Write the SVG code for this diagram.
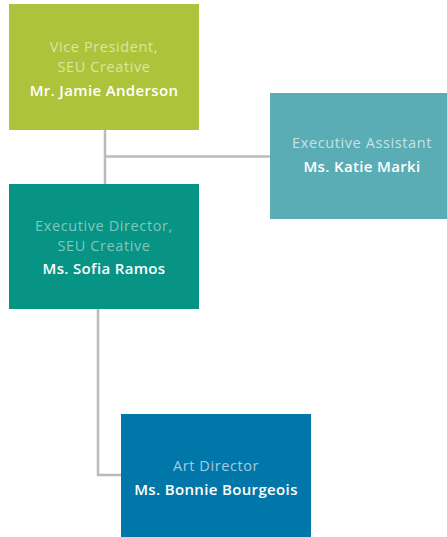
<svg xmlns="http://www.w3.org/2000/svg" width="447" height="537" viewBox="0 0 447 537">
<style>
.t{font-family:"Open Sans","Liberation Sans",sans-serif;font-size:14.5px;font-weight:500;letter-spacing:0.6px;text-anchor:middle}
.n{font-family:"Open Sans","Liberation Sans",sans-serif;font-size:15px;font-weight:600;letter-spacing:0.35px;fill:#fff;text-anchor:middle}
.c{fill:none;stroke:#BBBBBB;stroke-width:2.5}
</style>
<rect width="447" height="537" fill="#fff"/>
<g id="connectors">
<path class="c" d="M105 130V184"/>
<path class="c" d="M105 156.5H270"/>
<path class="c" d="M98 309V475H121"/>
</g>
<g id="vp">
<rect x="9" y="4" width="190" height="126" fill="#ADC33B"/>
<text class="t" x="104" y="52" fill="#DCE6A2">Vice President,</text>
<text class="t" x="104" y="72" fill="#DCE6A2">SEU Creative</text>
<text class="n" x="104" y="96">Mr. Jamie Anderson</text>
</g>
<g id="ea">
<rect x="270" y="93" width="177" height="126" fill="#5AADB5"/>
<text class="t" x="362" y="148" fill="#C6E2E5">Executive Assistant</text>
<text class="n" x="362" y="172">Ms. Katie Marki</text>
</g>
<g id="ed">
<rect x="9" y="184" width="190" height="125" fill="#079484"/>
<text class="t" x="104" y="231" fill="#7FC8BE">Executive Director,</text>
<text class="t" x="104" y="251" fill="#7FC8BE">SEU Creative</text>
<text class="n" x="104" y="274">Ms. Sofia Ramos</text>
</g>
<g id="ad">
<rect x="121" y="414" width="190" height="123" fill="#0077A8"/>
<text class="t" x="216" y="471" fill="#A3CBE0">Art Director</text>
<text class="n" x="216" y="495">Ms. Bonnie Bourgeois</text>
</g>
</svg>
